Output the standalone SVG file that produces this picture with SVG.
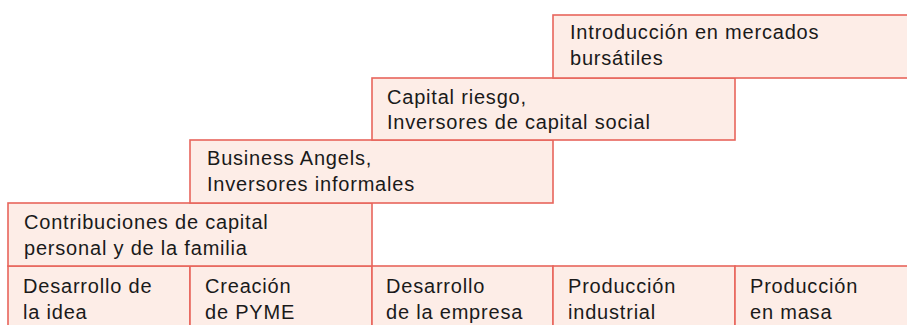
<svg xmlns="http://www.w3.org/2000/svg" width="907" height="325" viewBox="0 0 907 325">
<style>
.box{fill:#fdede7;stroke:#e8655c;stroke-width:1.6}
.t{font-family:"Liberation Sans",Arial,sans-serif;font-size:20px;letter-spacing:0.8px;fill:#1a1a1a}
</style>
<rect x="0" y="0" width="907" height="325" fill="#ffffff"/>
<g id="stages">
<g id="stage-idea">
<rect class="box" x="8" y="266" width="182" height="70"/>
<text class="t" x="23" y="293">Desarrollo de</text>
<text class="t" x="23" y="319">la idea</text>
</g>
<g id="stage-pyme">
<rect class="box" x="190" y="266" width="182" height="70"/>
<text class="t" x="205" y="293">Creación</text>
<text class="t" x="205" y="319">de PYME</text>
</g>
<g id="stage-empresa">
<rect class="box" x="372" y="266" width="181" height="70"/>
<text class="t" x="386" y="293">Desarrollo</text>
<text class="t" x="386" y="319">de la empresa</text>
</g>
<g id="stage-industrial">
<rect class="box" x="553" y="266" width="182" height="70"/>
<text class="t" x="568" y="293">Producción</text>
<text class="t" x="568" y="319">industrial</text>
</g>
<g id="stage-masa">
<rect class="box" x="735" y="266" width="182" height="70"/>
<text class="t" x="750" y="293">Producción</text>
<text class="t" x="750" y="319">en masa</text>
</g>
</g>
<g id="contribuciones">
<rect class="box" x="8" y="203" width="364" height="63"/>
<text class="t" x="24" y="229">Contribuciones de capital</text>
<text class="t" x="24" y="255">personal y de la familia</text>
</g>
<g id="business-angels">
<rect class="box" x="190" y="140" width="363" height="63"/>
<text class="t" x="207" y="165">Business Angels,</text>
<text class="t" x="207" y="191">Inversores informales</text>
</g>
<g id="capital-riesgo">
<rect class="box" x="372" y="78" width="363" height="62"/>
<text class="t" x="387" y="104">Capital riesgo,</text>
<text class="t" x="387" y="129">Inversores de capital social</text>
</g>
<g id="mercados">
<rect class="box" x="553" y="15" width="364" height="63"/>
<text class="t" x="570" y="39">Introducción en mercados</text>
<text class="t" x="570" y="65">bursátiles</text>
</g>
<g id="connectors"></g>
</svg>
